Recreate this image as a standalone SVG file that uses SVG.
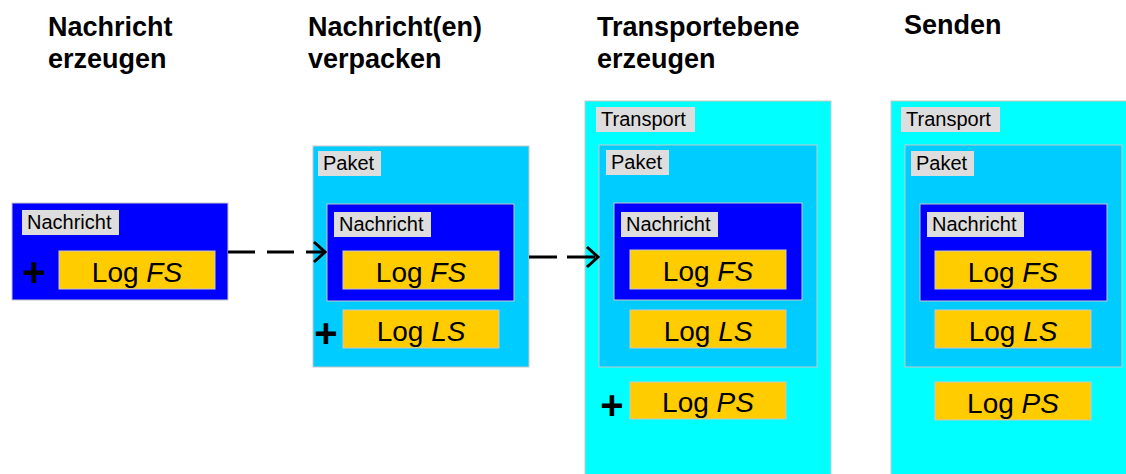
<svg xmlns="http://www.w3.org/2000/svg" width="1126" height="474" viewBox="0 0 1126 474">
<style>
.hdr{font-family:"Liberation Sans",Arial,sans-serif;font-weight:bold;font-size:27px;fill:#000}
.lbl{font-family:"Liberation Sans",Arial,sans-serif;font-size:20px;fill:#000}
.log{font-family:"Liberation Sans",Arial,sans-serif;font-size:28px;fill:#000;text-anchor:middle}
.plus{font-family:"Liberation Sans",Arial,sans-serif;font-weight:bold;font-size:40px;fill:#000;text-anchor:middle}
.tr{fill:#00ffff;stroke:#c8c8c8;stroke-width:1}
.pk{fill:#00ccff;stroke:#c8c8c8;stroke-width:1}
.na{fill:#0000ff;stroke:#c8c8c8;stroke-width:1}
.lg{fill:#ffcc00;stroke:#c8c8c8;stroke-width:1}
.tag{fill:#dddddd}
.conn{stroke:#000;stroke-width:3;fill:none}
</style>
<defs>
<marker id="arr" markerUnits="userSpaceOnUse" markerWidth="16" markerHeight="26" viewBox="0 0 16 26" refX="13" refY="13" orient="auto">
<path d="M2,3 L13,13 L2,23" fill="none" stroke="#000" stroke-width="3"/>
</marker>
</defs>
<rect width="1126" height="474" fill="#fff"/>

<g id="headers">
<text class="hdr" x="48" y="36">Nachricht</text>
<text class="hdr" x="48" y="68">erzeugen</text>
<text class="hdr" x="308" y="36">Nachricht(en)</text>
<text class="hdr" x="308" y="68">verpacken</text>
<text class="hdr" x="597" y="36">Transportebene</text>
<text class="hdr" x="597" y="68">erzeugen</text>
<text class="hdr" x="904" y="34">Senden</text>
</g>

<g id="step1">
<rect class="na" x="12" y="203" width="216" height="97"/>
<rect class="tag" x="22" y="210" width="97" height="25"/>
<text class="lbl" x="27" y="229">Nachricht</text>
<text class="plus" x="34" y="286">+</text>
<rect class="lg" x="59" y="251" width="156" height="38"/>
<text class="log" x="137" y="282">Log <tspan font-style="italic">FS</tspan></text>
</g>

<g id="step2">
<rect class="pk" x="313" y="146" width="216" height="221"/>
<rect class="tag" x="318" y="151" width="63" height="25"/>
<text class="lbl" x="323" y="170">Paket</text>
<rect class="na" x="327" y="204" width="187" height="97"/>
<rect class="tag" x="334" y="212" width="97" height="25"/>
<text class="lbl" x="339" y="231">Nachricht</text>
<rect class="lg" x="343" y="251" width="156" height="38"/>
<text class="log" x="421" y="282">Log <tspan font-style="italic">FS</tspan></text>
<text class="plus" x="326" y="347">+</text>
<rect class="lg" x="343" y="310" width="156" height="38"/>
<text class="log" x="421" y="341">Log <tspan font-style="italic">LS</tspan></text>
</g>

<g id="step3">
<rect class="tr" x="585" y="101" width="246" height="380"/>
<rect class="tag" x="596" y="107" width="99" height="25"/>
<text class="lbl" x="601" y="126">Transport</text>
<rect class="pk" x="599" y="145" width="218" height="222"/>
<rect class="tag" x="606" y="150" width="63" height="25"/>
<text class="lbl" x="611" y="169">Paket</text>
<rect class="na" x="614" y="203" width="188" height="97"/>
<rect class="tag" x="621" y="212" width="97" height="25"/>
<text class="lbl" x="626" y="231">Nachricht</text>
<rect class="lg" x="630" y="250" width="156" height="39"/>
<text class="log" x="708" y="281">Log <tspan font-style="italic">FS</tspan></text>
<rect class="lg" x="630" y="310" width="156" height="38"/>
<text class="log" x="708" y="341">Log <tspan font-style="italic">LS</tspan></text>
<text class="plus" x="612" y="419">+</text>
<rect class="lg" x="630" y="382" width="156" height="37"/>
<text class="log" x="708" y="412">Log <tspan font-style="italic">PS</tspan></text>
</g>

<g id="step4">
<rect class="tr" x="891" y="101" width="246" height="380"/>
<rect class="tag" x="901" y="107" width="99" height="25"/>
<text class="lbl" x="906" y="126">Transport</text>
<rect class="pk" x="905" y="145" width="217" height="222"/>
<rect class="tag" x="911" y="151" width="63" height="25"/>
<text class="lbl" x="916" y="170">Paket</text>
<rect class="na" x="920" y="204" width="187" height="97"/>
<rect class="tag" x="927" y="212" width="97" height="25"/>
<text class="lbl" x="932" y="231">Nachricht</text>
<rect class="lg" x="935" y="251" width="156" height="38"/>
<text class="log" x="1013" y="282">Log <tspan font-style="italic">FS</tspan></text>
<rect class="lg" x="935" y="310" width="156" height="38"/>
<text class="log" x="1013" y="341">Log <tspan font-style="italic">LS</tspan></text>
<rect class="lg" x="935" y="382" width="156" height="38"/>
<text class="log" x="1013" y="413">Log <tspan font-style="italic">PS</tspan></text>
</g>

<g id="connectors">
<line class="conn" x1="228" y1="252" x2="325" y2="252" stroke-dasharray="27 12" marker-end="url(#arr)"/>
<line class="conn" x1="529" y1="257" x2="598" y2="257" stroke-dasharray="28 10" marker-end="url(#arr)"/>
</g>
</svg>
